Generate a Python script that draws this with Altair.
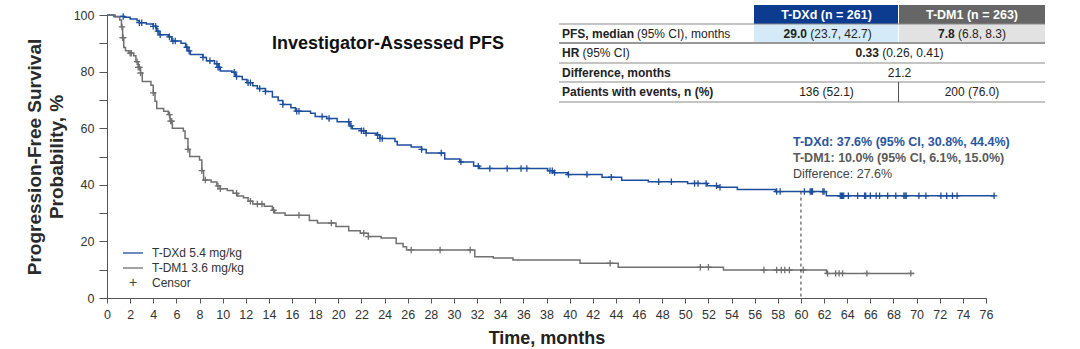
import altair as alt
import pandas as pd
import numpy as np

# ---------------- data ----------------
dxd_time = [0, 0.6, 1.5, 2.0, 2.6, 2.8, 3.4, 4.0, 4.3, 4.5, 5.3, 5.6, 6.4, 6.8, 7.0, 7.2,
            8.3, 8.6, 9.3, 9.6, 9.8, 10.8, 11.1, 11.7, 12.1, 12.6, 13.0, 13.7, 14.3, 14.8,
            15.2, 15.9, 16.3, 17.6, 18.0, 19.0, 19.9, 21.0, 21.2, 22.0, 22.4, 23.3, 23.6,
            24.9, 25.1, 26.3, 27.2, 27.6, 29.2, 30.5, 31.7, 32.2, 38.1, 38.6, 39.8, 42.8,
            44.5, 46.8, 50.2, 51.9, 52.8, 54.5, 57.8, 62.2, 76.7]
dxd_surv = [100, 99.5, 99.2, 98.6, 98.0, 97.3, 96.8, 96.0, 94.3, 93.0, 92.3, 90.8, 90.0, 88.6,
            87.3, 86.0, 85.0, 83.8, 82.8, 81.5, 80.2, 79.8, 78.3, 77.2, 76.1, 75.0, 74.0,
            73.0, 71.0, 69.8, 68.4, 67.2, 66.0, 65.3, 64.1, 63.4, 62.3, 60.8, 59.8, 59.1,
            58.2, 57.6, 56.4, 55.3, 54.1, 53.4, 52.5, 51.2, 49.1, 48.1, 46.6, 45.8, 45.0,
            44.3, 43.6, 42.7, 41.6, 41.1, 40.5, 39.7, 39.1, 38.3, 37.6, 36.1, 36.1]

dm1_time = [0, 0.7, 1.1, 1.25, 1.35, 1.45, 1.6, 1.9, 2.3, 2.5, 2.7, 2.9, 3.05, 3.8, 4.0, 4.15,
            4.3, 4.9, 5.3, 5.45, 5.65, 6.6, 6.75, 7.0, 7.15, 8.0, 8.2, 8.35, 9.0, 9.5, 9.8,
            10.4, 10.9, 11.3, 11.8, 12.2, 12.6, 13.6, 14.3, 14.5, 15.4, 17.5, 18.2, 19.8,
            20.9, 21.9, 22.6, 23.7, 25.0, 25.6, 25.9, 31.8, 33.4, 35.1, 40.9, 44.2, 53.3,
            62.2, 69.8]
dm1_surv = [100, 99.4, 98.2, 95.8, 92.0, 88.5, 87.4, 86.5, 85.6, 83.5, 81.5, 79.5, 76.5, 75.2,
            72.5, 69.5, 67.0, 66.0, 64.8, 62.5, 60.0, 59.0, 56.4, 52.5, 50.0, 48.8, 45.0,
            41.7, 41.0, 39.6, 38.6, 38.0, 37.0, 36.0, 35.4, 34.2, 33.2, 32.4, 31.0, 30.0,
            29.2, 27.4, 26.5, 25.3, 23.8, 22.9, 21.7, 21.2, 19.3, 18.1, 17.0, 14.6, 14.1,
            13.4, 12.3, 10.9, 9.9, 8.7, 8.7]

dxd_censor = [1.4, 2.8, 3.0, 4.0, 4.2, 4.4, 4.6, 5.4, 5.7, 5.9, 6.9, 7.1, 8.3, 8.9, 9.5, 9.6,
              9.7, 11.0, 11.2, 12.2, 12.4, 13.2, 13.7, 15.2, 16.4, 16.6, 18.6, 19.2, 20.9,
              21.1, 22.0, 22.2, 22.4, 23.4, 23.6, 23.8, 27.2, 28.9, 30.6, 32.1, 33.1, 34.6,
              35.8, 36.3, 38.3, 38.5, 38.7, 39.9, 41.5, 43.6, 47.7, 48.8, 50.8, 51.1, 51.8,
              52.7, 53.0, 57.9, 58.2, 60.3, 60.8, 60.9, 61.0, 61.9, 62.0, 63.4, 63.5, 63.6,
              63.7, 64.1, 64.9, 65.5, 65.6, 66.0, 66.5, 66.8, 67.5, 68.2, 68.9, 69.0, 69.1,
              70.2, 70.8, 72.1, 72.6, 73.1, 73.5, 76.7]
dm1_censor = [1.3, 1.35, 1.4, 2.0, 2.1, 2.6, 2.7, 2.8, 2.9, 4.0, 5.4, 5.5, 5.6, 7.0, 8.2, 8.5,
              9.6, 9.8, 11.2, 12.4, 13.0, 13.4, 14.4, 16.6, 19.4, 22.2, 22.6, 26.3, 28.8,
              31.4, 43.5, 51.3, 52.0, 56.8, 57.9, 58.3, 58.6, 59.0, 60.2, 62.3, 63.0, 63.3,
              63.6, 65.7, 69.5]

series_names = ["T-DXd 5.4 mg/kg", "T-DM1 3.6 mg/kg"]
series_colors = ["#1c4e9d", "#707070"]
landmark_month = 60
landmark_dxd = 37.6

title_text = "Investigator-Assessed PFS"
y_title = ["Progression-Free Survival", "Probability, %"]
x_title = "Time, months"
x_ticks = list(range(0, 77, 2))
y_ticks = list(range(0, 101, 10))

annot_lines = ["T-DXd: 37.6% (95% CI, 30.8%, 44.4%)",
               "T-DM1: 10.0% (95% CI, 6.1%, 15.0%)",
               "Difference: 27.6%"]

hdr = ["T-DXd (n = 261)", "T-DM1 (n = 263)"]

FONT = "Liberation Sans"
W, H = 879, 283

# ---------------- frames ----------------
curves = pd.concat([
    pd.DataFrame({"t": dxd_time, "s": dxd_surv, "arm": series_names[0]}),
    pd.DataFrame({"t": dm1_time, "s": dm1_surv, "arm": series_names[1]}),
])


def step_lookup(times, survs, pts):
    idx = np.searchsorted(np.array(times), np.array(pts), side="right") - 1
    return [survs[i] for i in idx]


cens = pd.concat([
    pd.DataFrame({"t": dxd_censor, "s": step_lookup(dxd_time, dxd_surv, dxd_censor),
                  "arm": series_names[0]}),
    pd.DataFrame({"t": dm1_censor, "s": step_lookup(dm1_time, dm1_surv, dm1_censor),
                  "arm": series_names[1]}),
])

xs = alt.Scale(domain=[0, 76], nice=False)
ys = alt.Scale(domain=[0, 100], nice=False)
cs = alt.Scale(domain=series_names, range=series_colors)

x_axis = alt.Axis(
    values=x_ticks, title=x_title, titleFont=FONT, titleFontSize=18,
    titleFontWeight="bold", titleColor="#222", titlePadding=9,
    labelFont=FONT, labelFontSize=12.5, labelColor="#333", tickSize=5,
    labelPadding=5, domainColor="#555", tickColor="#555", labelFlush=False,
    labelOverlap=False, format="d")
y_axis = alt.Axis(
    values=y_ticks, title=None, labelExpr="datum.value % 20 == 0 ? datum.label : ''",
    labelFont=FONT, labelFontSize=12.5, labelColor="#333", tickSize=8,
    labelPadding=5, domainColor="#555", tickColor="#555", labelOverlap=False)

lines = alt.Chart(curves).mark_line(interpolate="step-after", strokeWidth=1.5).encode(
    x=alt.X("t:Q", scale=xs, axis=x_axis),
    y=alt.Y("s:Q", scale=ys, axis=y_axis),
    color=alt.Color("arm:N", scale=cs, legend=None),
    detail="arm:N",
)

plus_shape = "M-1,0L1,0M0,-1L0,1"
marks = alt.Chart(cens).mark_point(shape=plus_shape, filled=False, size=42,
                                   strokeWidth=1.3, opacity=1).encode(
    x=alt.X("t:Q", scale=xs, axis=x_axis), y=alt.Y("s:Q", scale=ys, axis=y_axis),
    color=alt.Color("arm:N", scale=cs, legend=None),
)

landmark = alt.Chart(pd.DataFrame({"t": [landmark_month], "s": [landmark_dxd]})).mark_rule(
    strokeDash=[3, 3], color="#333", strokeWidth=1).encode(
    x=alt.X("t:Q", scale=xs, axis=x_axis), y=alt.Y("s:Q", scale=ys, axis=y_axis),
    y2=alt.datum(0))

dummy = pd.DataFrame({"a": [0]})


def txt(s, x, y, size=12, bold=False, color="#222", align="left", angle=0):
    kw = dict(text=s, font=FONT, fontSize=size, fontWeight="bold" if bold else "normal",
              color=color, align=align, baseline="middle")
    if angle:
        kw["angle"] = angle
    return alt.Chart(dummy).mark_text(**kw).encode(x=alt.value(x), y=alt.value(y))


def rect(x1, x2, y1, y2, fill):
    return alt.Chart(dummy).mark_rect(color=fill).encode(
        x=alt.value(x1), x2=alt.value(x2), y=alt.value(y1), y2=alt.value(y2))


def hline(x1, x2, y, color="#8a8a8a", w=1.2):
    return alt.Chart(dummy).mark_rule(color=color, strokeWidth=w).encode(
        x=alt.value(x1), x2=alt.value(x2), y=alt.value(y))


def vline(x, y1, y2, color="#555", w=1):
    return alt.Chart(dummy).mark_rule(color=color, strokeWidth=w).encode(
        x=alt.value(x), y=alt.value(y1), y2=alt.value(y2))


layers = [lines, marks, landmark]

# title and y-axis title
layers.append(txt(title_text, 281, 29, size=18, bold=True, color="#111", align="center"))
layers.append(txt(y_title[0], -72, 142, size=19, bold=True, color="#2a2a2a", align="center", angle=270))
layers.append(txt(y_title[1], -50, 142, size=19, bold=True, color="#2a2a2a", align="center", angle=270))

# legend
layers.append(hline(16, 36, 238, color=series_colors[0], w=1.3))
layers.append(hline(16, 36, 253, color=series_colors[1], w=1.3))
layers.append(txt("+", 26, 268, size=14, color="#444", align="center"))
layers.append(txt(series_names[0], 45, 238, size=12, color="#333"))
layers.append(txt(series_names[1], 45, 253, size=12, color="#333"))
layers.append(txt("Censor", 45, 268, size=12, color="#333"))

# annotation
layers.append(txt(annot_lines[0], 686, 127, size=12.5, bold=True, color="#2a559f"))
layers.append(txt(annot_lines[1], 686, 143, size=12.5, bold=True, color="#5a5a5a"))
layers.append(txt(annot_lines[2], 686, 159, size=12.5, color="#444"))

# table
L, C1, C2, R = 452, 647, 792, 938
layers += [
    rect(C1, C2 - 1, -10, 9, "#0c3c8f"),
    rect(C2, R, -10, 9, "#666666"),
    rect(C1, C2 - 1, 9, 28, "#d5eaf8"),
    rect(C2, R, 9, 28, "#e2e2e2"),
    hline(L, R, 9),
    hline(L, R, 28, color="#999", w=1.8),
    hline(L, R, 48),
    hline(L, R, 67),
    hline(L, R, 87),
    vline(C2 - 0.5, 67, 87),
    txt(hdr[0], (C1 + C2) / 2, 0, size=12.5, bold=True, color="white", align="center"),
    txt(hdr[1], (C2 + R) / 2, 0, size=12.5, bold=True, color="white", align="center"),
    txt("PFS, median", 455, 18.5, bold=True),
    txt("(95% CI), months", 530, 18.5),
    txt("HR", 455, 38, bold=True),
    txt("(95% CI)", 475.5, 38),
    txt("Difference, months", 455, 57.5, bold=True),
    txt("Patients with events, n (%)", 455, 77, bold=True),
    txt("29.0", 676.6, 18.5, bold=True),
    txt("(23.7, 42.7)", 703.3, 18.5),
    txt("7.8", 831, 18.5, bold=True),
    txt("(6.8, 8.3)", 851, 18.5),
    txt("0.33", 748.5, 38, bold=True),
    txt("(0.26, 0.41)", 775.2, 38),
    txt("21.2", (C1 + R) / 2, 57.5, align="center"),
    txt("136 (52.1)", (C1 + C2) / 2, 77, align="center"),
    txt("200 (76.0)", (C2 + R) / 2, 77, align="center"),
]

chart = alt.layer(*layers).properties(
    width=W, height=H,
    autosize="none",
    padding={"left": 107, "top": 15, "right": 94, "bottom": 51},
    background="white",
).configure_view(stroke=None).configure_axis(grid=False)

chart.save("out.html", embed_options={"renderer": "svg", "actions": False})
